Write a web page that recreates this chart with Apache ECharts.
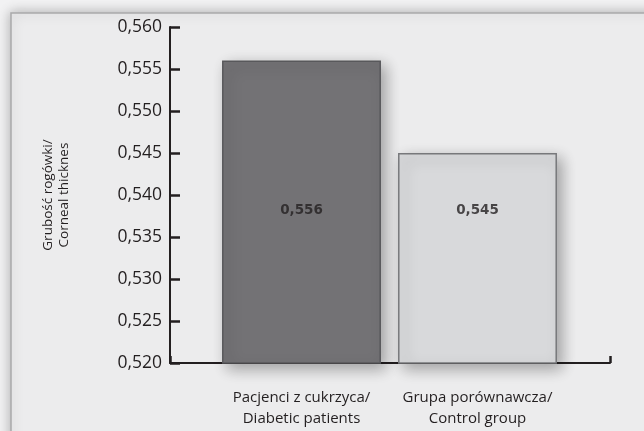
<!DOCTYPE html>
<html>
<head>
<meta charset="utf-8">
<script src="https://cdn.jsdelivr.net/npm/echarts@6/dist/echarts.min.js"></script>
<style>
  html, body { margin: 0; padding: 0; background: #f2f2f3; }
  #chart { width: 644px; height: 431px; }
</style>
</head>
<body>
<div id="chart"></div>
<script>
// Corneal thickness: diabetic patients vs control group
const categories = ['Pacjenci z cukrzyca/\nDiabetic patients', 'Grupa porównawcza/\nControl group'];
const values = [0.556, 0.545];
const barColors = ['#737275', '#d8d9db'];
const barBorders = ['#58585b', '#77787b'];
const yMin = 0.52;
const yMax = 0.56;
const yStep = 0.005;
// height at which the value labels sit
const labelLevel = 0.5382;

const fmt = v => v.toFixed(3).replace('.', ',');
const axisColor = '#231f20';

const chart = echarts.init(document.getElementById('chart'), null, { renderer: 'canvas' });

chart.setOption({
  animation: false,
  backgroundColor: '#f2f2f3',
  graphic: [{
    type: 'rect',
    z: -10,
    shape: { x: 11, y: 13, width: 720, height: 520 },
    style: {
      fill: '#ececed',
      stroke: '#a9a9ab',
      lineWidth: 1.5,
      shadowBlur: 12,
      shadowColor: 'rgba(0,0,0,0.28)'
    }
  }],
  grid: [
    { left: 170, right: 34, top: 27, bottom: 68 },
    { left: 213.5, width: 352, top: 27, bottom: 68 }
  ],
  xAxis: [{
    gridIndex: 0,
    type: 'value',
    min: 0, max: 1, interval: 1,
    axisLine: { show: true, lineStyle: { color: axisColor, width: 2 } },
    axisTick: { show: true, inside: true, length: 7, lineStyle: { color: axisColor, width: 2.5 } },
    axisLabel: { show: false },
    splitLine: { show: false }
  }, {
    gridIndex: 1,
    type: 'category',
    data: categories,
    axisLine: { show: false },
    axisTick: { show: false },
    axisLabel: {
      interval: 0,
      margin: 24,
      color: axisColor,
      fontFamily: 'Open Sans',
      fontSize: 15,
      lineHeight: 21
    }
  }],
  yAxis: [{
    gridIndex: 0,
    type: 'value',
    min: yMin, max: yMax, interval: yStep,
    name: 'Grubość rogówki/\nCorneal thicknes',
    nameLocation: 'middle',
    nameRotate: 90,
    nameGap: 98,
    nameTextStyle: { color: axisColor, fontFamily: 'Open Sans', fontSize: 13.5, lineHeight: 16 },
    axisLine: { show: true, lineStyle: { color: axisColor, width: 2 } },
    axisTick: { show: true, inside: true, length: 10, lineStyle: { color: axisColor, width: 2.5 } },
    axisLabel: {
      margin: 8,
      color: axisColor,
      fontFamily: 'Open Sans',
      fontSize: 17.5,
      formatter: fmt
    },
    splitLine: { show: false }
  }, {
    gridIndex: 1,
    type: 'value',
    min: yMin, max: yMax, interval: yStep,
    show: false
  }],
  series: [{
    type: 'bar',
    xAxisIndex: 1,
    yAxisIndex: 1,
    barCategoryGap: '9.7%',
    data: values.map((v, i) => ({
      value: v,
      itemStyle: {
        color: barColors[i],
        borderColor: barBorders[i],
        borderWidth: 1.5,
        shadowBlur: 14,
        shadowOffsetX: 5,
        shadowOffsetY: 5,
        shadowColor: 'rgba(0,0,0,0.32)'
      }
    }))
  }, {
    type: 'scatter',
    xAxisIndex: 1,
    yAxisIndex: 1,
    symbolSize: 0,
    z: 5,
    silent: true,
    data: values.map((v, i) => [i, labelLevel, v]),
    label: {
      show: true,
      position: 'inside',
      formatter: p => fmt(p.data[2]),
      color: axisColor,
      fontFamily: 'DejaVu Sans',
      fontWeight: 'bold',
      fontSize: 13.5
    }
  }]
});
</script>
</body>
</html>
